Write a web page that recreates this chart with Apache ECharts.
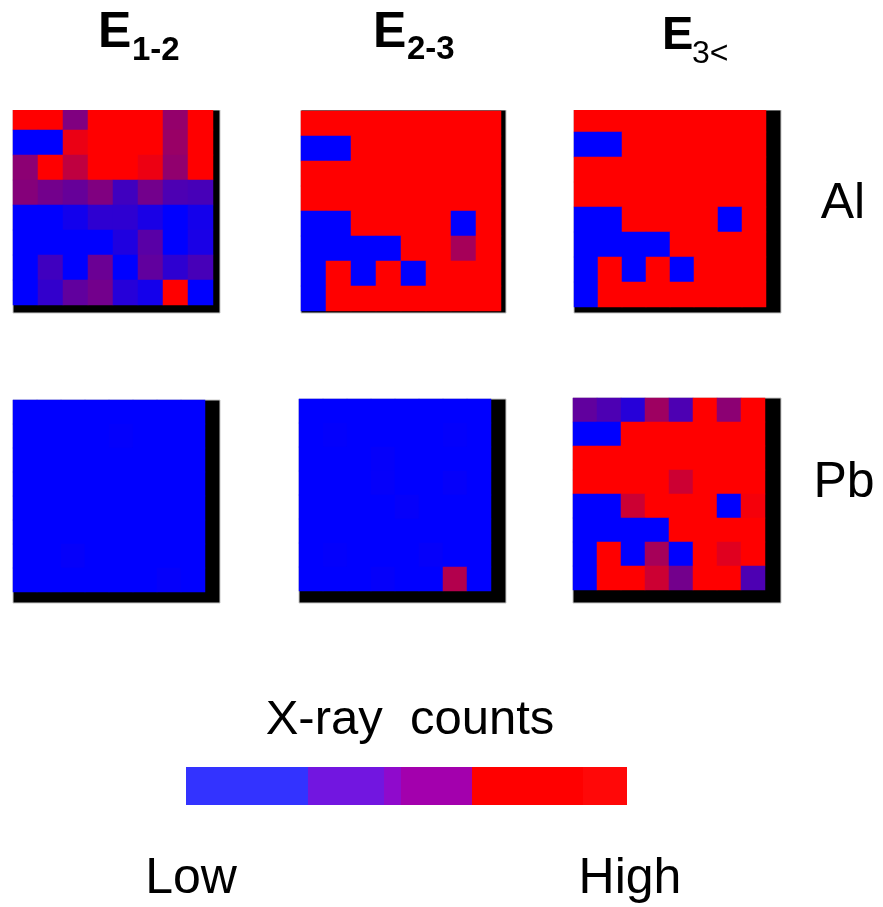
<!DOCTYPE html>
<html><head><meta charset="utf-8">
<script src="https://cdn.jsdelivr.net/npm/echarts@6/dist/echarts.min.js"></script>
<style>html,body{margin:0;padding:0;background:#fff}#c{width:883px;height:907px}</style>
</head><body><div id="c"></div>
<script>
// values: 0 = Low (blue) ... 1 = High (red); rows top->bottom, columns left->right
const alE12 = [
  [1,1,0.5,1,1,1,0.58,1],
  [0,0,0.92,1,1,1,0.6,1],
  [0.55,1,0.75,1,1,0.93,0.57,1],
  [0.52,0.45,0.4,0.5,0.25,0.45,0.3,0.28],
  [0,0,0.07,0.18,0.18,0.1,0,0.08],
  [0,0,0,0,0.12,0.35,0,0.1],
  [0,0.25,0,0.42,0,0.38,0.18,0.28],
  [0,0.2,0.38,0.45,0.15,0.08,1,0]
];
const alE23 = [
  [1,1,1,1,1,1,1,1],
  [0,0,1,1,1,1,1,1],
  [1,1,1,1,1,1,1,1],
  [1,1,1,1,1,1,1,1],
  [0,0,1,1,1,1,0,1],
  [0,0,0,0,1,1,0.65,1],
  [0,1,0,1,0,1,1,1],
  [0,1,1,1,1,1,1,1]
];
const alE3 = [
  [1,1,1,1,1,1,1,1],
  [0,0,1,1,1,1,1,1],
  [1,1,1,1,1,1,1,1],
  [1,1,1,1,1,1,1,1],
  [0,0,1,1,1,1,0,1],
  [0,0,0,0,1,1,1,1],
  [0,1,0,1,0,1,1,1],
  [0,1,1,1,1,1,1,1]
];
const pbE12 = [
  [0,0,0,0,0,0,0,0],
  [0,0,0,0,0.01,0,0,0],
  [0,0,0,0,0,0,0,0],
  [0,0,0,0,0,0,0,0],
  [0,0,0,0,0,0,0,0],
  [0,0,0,0,0,0,0,0],
  [0,0,0.02,0,0,0,0,0],
  [0,0,0,0,0,0,0.02,0]
];
const pbE23 = [
  [0,0,0,0,0,0,0,0],
  [0,0.01,0,0,0,0,0.01,0],
  [0,0,0,0.02,0,0,0,0],
  [0,0,0,0.02,0,0,0.02,0],
  [0,0,0,0,0.02,0,0,0],
  [0,0,0,0,0,0,0,0],
  [0,0.01,0,0,0,0.02,0,0],
  [0,0,0,0.02,0,0,0.7,0]
];
const pbE3 = [
  [0.38,0.3,0.15,0.62,0.3,1,0.55,1],
  [0,0,1,1,1,1,1,1],
  [1,1,1,1,1,1,1,1],
  [1,1,1,1,0.8,1,1,1],
  [0,0,0.8,1,1,1,0,0.96],
  [0,0,0,0,1,1,1,1],
  [0,1,0,0.65,0,1,0.88,1],
  [0,1,1,0.8,0.45,1,1,0.3]
];
const columnLabels = ['1-2','2-3','3<'];
const rowLabels = ['Al','Pb'];
const colorbarSegments = [122,76,17,71,111,44];
const colorbarColors = ['#3333ff','#7216e0','#8f0acc','#a300ad','#ff0000','#ff0808'];

const panels = [alE12, alE23, alE3, pbE12, pbE23, pbE3];
// layout: [left, top, width, height]
const heatBoxes = [
  [13,105,200,200],[301,111,200,200],[574,107,192,200],
  [13,400,192,192],[299,399,192,192],[573,398,192,192]
];
const frameBoxes = [
  [13,110,207,203],[301,110,205,203],[574,110,207,203],
  [13,400,207,203],[299,399,207,204],[573,398,208,205]
];
const idx = [0,1,2,3,4,5,6,7].map(String);

const grid = [], xAxis = [], yAxis = [], series = [];
frameBoxes.forEach((b,i)=>{
  grid.push({left:b[0],top:b[1],width:b[2],height:b[3],show:true,backgroundColor:'#000',borderColor:'#c8c8c8',borderWidth:1,z:0});
  xAxis.push({gridIndex:i,type:'value',show:false});
  yAxis.push({gridIndex:i,type:'value',show:false});
});
heatBoxes.forEach((b,i)=>{
  const gi = grid.length;
  grid.push({left:b[0],top:b[1],width:b[2],height:b[3],show:false,z:2});
  xAxis.push({gridIndex:gi,type:'category',data:idx,show:false});
  yAxis.push({gridIndex:gi,type:'category',data:idx,inverse:true,show:false});
  const d = [];
  panels[i].forEach((row,r)=>row.forEach((v,c)=>d.push([c,r,v])));
  series.push({type:'heatmap',xAxisIndex:gi,yAxisIndex:gi,data:d,itemStyle:{borderWidth:0},emphasis:{disabled:true},z:3});
});
// colorbar
const cgi = grid.length;
grid.push({left:186,top:767,width:441,height:38,show:false});
xAxis.push({gridIndex:cgi,type:'value',min:0,max:colorbarSegments.reduce((a,b)=>a+b,0),show:false});
yAxis.push({gridIndex:cgi,type:'category',data:['c'],show:false});
colorbarSegments.forEach((w,k)=>{
  series.push({type:'bar',xAxisIndex:cgi,yAxisIndex:cgi,stack:'cb',data:[w],barWidth:'100%',
    itemStyle:{color:colorbarColors[k]},emphasis:{disabled:true},silent:true});
});

const F = '"Liberation Sans", Arial, sans-serif';
const txt = (t,x,y,size,weight,align) => ({type:'text',x:x,y:y,z:100,
  style:{text:t,font:(weight||'normal')+' '+size+'px '+F,fill:'#000',textAlign:align||'left',textVerticalAlign:'middle'}});
const graphics = [
  // white mask trimming the cropped top row of the upper panels
  {type:'rect',z:50,silent:true,shape:{x:0,y:96,width:800,height:14},style:{fill:'#fff'}},
  txt('E',98,33,50,'bold'), txt(columnLabels[0],132,51,33,'bold'),
  txt('E',373,33,50,'bold'), txt(columnLabels[1],407,50,33,'bold'),
  txt('E',662,36,47,'bold'), txt(columnLabels[2],692,54,32,'normal'),
  txt(rowLabels[0],843,204,50,'normal','center'),
  txt(rowLabels[1],844,483,50,'normal','center'),
  txt('X-ray  counts',410,720,49,'normal','center'),
  txt('Low',191,879,50,'normal','center'),
  txt('High',630,879,50,'normal','center')
];

const chart = echarts.init(document.getElementById('c'));
chart.setOption({
  animation:false,
  grid, xAxis, yAxis, series,
  visualMap:{show:false,min:0,max:1,seriesIndex:[0,1,2,3,4,5],inRange:{color:['#0000ff','#ff0000']}},
  graphic:graphics
});
</script></body></html>
